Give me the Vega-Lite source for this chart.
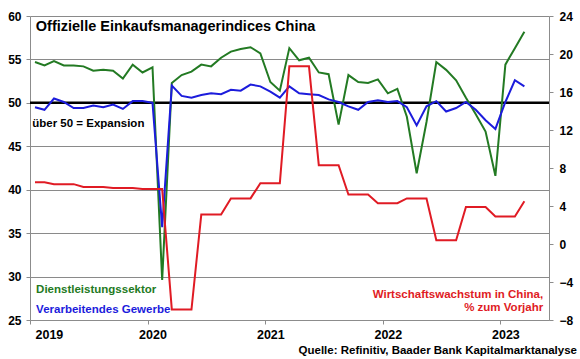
{
  "$schema": "https://vega.github.io/schema/vega-lite/v6.json",
  "width": 519,
  "height": 304,
  "autosize": {"type": "none"},
  "padding": {"left": 30, "top": 16, "right": 31, "bottom": 39},
  "background": "white",
  "config": {
    "font": "Liberation Sans",
    "view": {"stroke": null},
    "axis": {
      "labelFont": "Liberation Sans",
      "labelFontWeight": "bold",
      "labelColor": "black",
      "domainColor": "#8c8c8c",
      "tickColor": "#8c8c8c",
      "title": null
    }
  },
  "title": {
    "text": "Quelle: Refinitiv, Baader Bank Kapitalmarktanalyse",
    "orient": "bottom",
    "anchor": "end",
    "frame": "group",
    "font": "Liberation Sans",
    "fontSize": 11.5,
    "fontWeight": "bold",
    "color": "black",
    "offset": 4,
    "dx": 28
  },
  "datasets": {
    "pmi": [
      {"date": "2019-01", "dl": 54.7, "vg": 49.5, "bip": 6.5},
      {"date": "2019-02", "dl": 54.3, "vg": 49.2, "bip": 6.5},
      {"date": "2019-03", "dl": 54.8, "vg": 50.5, "bip": 6.3},
      {"date": "2019-04", "dl": 54.3, "vg": 50.1, "bip": 6.3},
      {"date": "2019-05", "dl": 54.3, "vg": 49.4, "bip": 6.3},
      {"date": "2019-06", "dl": 54.2, "vg": 49.4, "bip": 6.0},
      {"date": "2019-07", "dl": 53.7, "vg": 49.7, "bip": 6.0},
      {"date": "2019-08", "dl": 53.8, "vg": 49.5, "bip": 6.0},
      {"date": "2019-09", "dl": 53.7, "vg": 49.8, "bip": 5.9},
      {"date": "2019-10", "dl": 52.8, "vg": 49.3, "bip": 5.9},
      {"date": "2019-11", "dl": 54.4, "vg": 50.2, "bip": 5.9},
      {"date": "2019-12", "dl": 53.5, "vg": 50.2, "bip": 5.8},
      {"date": "2020-01", "dl": 54.1, "vg": 50.0, "bip": 5.8},
      {"date": "2020-02", "dl": 29.6, "vg": 35.7, "bip": 5.8},
      {"date": "2020-03", "dl": 52.3, "vg": 52.0, "bip": -6.9},
      {"date": "2020-04", "dl": 53.2, "vg": 50.8, "bip": -6.9},
      {"date": "2020-05", "dl": 53.6, "vg": 50.6, "bip": -6.9},
      {"date": "2020-06", "dl": 54.4, "vg": 50.9, "bip": 3.1},
      {"date": "2020-07", "dl": 54.2, "vg": 51.1, "bip": 3.1},
      {"date": "2020-08", "dl": 55.2, "vg": 51.0, "bip": 3.1},
      {"date": "2020-09", "dl": 55.9, "vg": 51.5, "bip": 4.8},
      {"date": "2020-10", "dl": 56.2, "vg": 51.4, "bip": 4.8},
      {"date": "2020-11", "dl": 56.4, "vg": 52.1, "bip": 4.8},
      {"date": "2020-12", "dl": 55.7, "vg": 51.9, "bip": 6.4},
      {"date": "2021-01", "dl": 52.4, "vg": 51.3, "bip": 6.4},
      {"date": "2021-02", "dl": 51.4, "vg": 50.6, "bip": 6.4},
      {"date": "2021-03", "dl": 56.3, "vg": 51.9, "bip": 18.7},
      {"date": "2021-04", "dl": 54.9, "vg": 51.1, "bip": 18.7},
      {"date": "2021-05", "dl": 55.2, "vg": 51.0, "bip": 18.7},
      {"date": "2021-06", "dl": 53.5, "vg": 50.9, "bip": 8.3},
      {"date": "2021-07", "dl": 53.3, "vg": 50.4, "bip": 8.3},
      {"date": "2021-08", "dl": 47.5, "vg": 50.1, "bip": 8.3},
      {"date": "2021-09", "dl": 53.2, "vg": 49.6, "bip": 5.2},
      {"date": "2021-10", "dl": 52.4, "vg": 49.2, "bip": 5.2},
      {"date": "2021-11", "dl": 52.3, "vg": 50.1, "bip": 5.2},
      {"date": "2021-12", "dl": 52.7, "vg": 50.3, "bip": 4.3},
      {"date": "2022-01", "dl": 51.1, "vg": 50.1, "bip": 4.3},
      {"date": "2022-02", "dl": 51.6, "vg": 50.2, "bip": 4.3},
      {"date": "2022-03", "dl": 48.4, "vg": 49.5, "bip": 4.8},
      {"date": "2022-04", "dl": 41.9, "vg": 47.4, "bip": 4.8},
      {"date": "2022-05", "dl": 47.8, "vg": 49.6, "bip": 4.8},
      {"date": "2022-06", "dl": 54.7, "vg": 50.2, "bip": 0.4},
      {"date": "2022-07", "dl": 53.8, "vg": 49.0, "bip": 0.4},
      {"date": "2022-08", "dl": 52.6, "vg": 49.4, "bip": 0.4},
      {"date": "2022-09", "dl": 50.6, "vg": 50.1, "bip": 3.9},
      {"date": "2022-10", "dl": 48.7, "vg": 49.2, "bip": 3.9},
      {"date": "2022-11", "dl": 46.7, "vg": 48.0, "bip": 3.9},
      {"date": "2022-12", "dl": 41.6, "vg": 47.0, "bip": 2.9},
      {"date": "2023-01", "dl": 54.4, "vg": 50.1, "bip": 2.9},
      {"date": "2023-02", "dl": 56.3, "vg": 52.6, "bip": 2.9},
      {"date": "2023-03", "dl": 58.2, "vg": 51.9, "bip": 4.5}
    ],
    "one": [{}]
  },
  "data": {"name": "pmi"},
  "layer": [
    {
      "layer": [
        {
          "data": {"name": "one"},
          "mark": {"type": "rule", "color": "black", "strokeWidth": 2.5},
          "encoding": {"y": {"datum": 50, "type": "quantitative"}}
        },
        {
          "mark": {"type": "line", "color": "#237a23", "strokeWidth": 2},
          "encoding": {
            "x": {
              "field": "date", "type": "temporal", "timeUnit": "utcyearmonth", "bandPosition": 0.5,
              "scale": {"domain": [{"year": 2019, "month": 1, "date": 1, "utc": true}, {"year": 2023, "month": 6, "date": 1, "utc": true}]},
              "axis": {
                "values": [
                  {"year": 2019, "month": 1, "date": 1, "utc": true},
                  {"year": 2020, "month": 1, "date": 1, "utc": true},
                  {"year": 2021, "month": 1, "date": 1, "utc": true},
                  {"year": 2022, "month": 1, "date": 1, "utc": true},
                  {"year": 2023, "month": 1, "date": 1, "utc": true}
                ],
                "labelExpr": "utcFormat(datum.value, '%Y')",
                "labelOffset": 5,
                "labelFontSize": 12.5,
                "tickSize": 4,
                "labelPadding": 4,
                "grid": false,
                "title": null
              }
            },
            "y": {
              "field": "dl", "type": "quantitative",
              "scale": {"domain": [25, 60], "nice": false, "zero": false},
              "axis": {
                "orient": "left",
                "values": [25, 30, 35, 40, 45, 50, 55, 60],
                "grid": true,
                "gridColor": "#8a8a8a",
                "gridWidth": 1,
                "gridOpacity": 1,
                "labelFontSize": 12,
                "tickSize": 4,
                "labelPadding": 5,
                "title": null
              }
            }
          }
        },
        {
          "mark": {"type": "line", "color": "#1c1cdc", "strokeWidth": 2},
          "encoding": {
            "x": {"field": "date", "type": "temporal", "timeUnit": "utcyearmonth", "bandPosition": 0.5},
            "y": {"field": "vg", "type": "quantitative"}
          }
        },
        {
          "data": {"name": "one"},
          "mark": {"type": "text", "align": "left", "baseline": "alphabetic", "fontSize": 14.5, "fontWeight": "bold", "color": "black", "text": "Offizielle Einkaufsmanagerindices China"},
          "encoding": {
            "x": {"datum": {"year": 2019, "month": 1, "date": 19, "utc": true}, "type": "temporal"},
            "y": {"datum": 58.27, "type": "quantitative"}
          }
        },
        {
          "data": {"name": "one"},
          "mark": {"type": "text", "align": "left", "baseline": "alphabetic", "fontSize": 11.5, "fontWeight": "bold", "color": "black", "text": "über 50 = Expansion"},
          "encoding": {
            "x": {"datum": {"year": 2019, "month": 1, "date": 8, "utc": true}, "type": "temporal"},
            "y": {"datum": 47.18, "type": "quantitative"}
          }
        },
        {
          "data": {"name": "one"},
          "mark": {"type": "text", "align": "left", "baseline": "alphabetic", "fontSize": 11.5, "fontWeight": "bold", "color": "#237a23", "text": "Dienstleistungssektor"},
          "encoding": {
            "x": {"datum": {"year": 2019, "month": 1, "date": 20, "utc": true}, "type": "temporal"},
            "y": {"datum": 28.07, "type": "quantitative"}
          }
        },
        {
          "data": {"name": "one"},
          "mark": {"type": "text", "align": "left", "baseline": "alphabetic", "fontSize": 11.5, "fontWeight": "bold", "color": "#1c1cdc", "text": "Verarbeitendes Gewerbe"},
          "encoding": {
            "x": {"datum": {"year": 2019, "month": 1, "date": 20, "utc": true}, "type": "temporal"},
            "y": {"datum": 25.84, "type": "quantitative"}
          }
        },
        {
          "data": {"name": "one"},
          "mark": {"type": "text", "align": "right", "baseline": "alphabetic", "fontSize": 11.5, "fontWeight": "bold", "color": "#e01b24", "text": "Wirtschaftswachstum in China,"},
          "encoding": {
            "x": {"datum": {"year": 2023, "month": 5, "date": 14, "utc": true}, "type": "temporal"},
            "y": {"datum": 27.5, "type": "quantitative"}
          }
        },
        {
          "data": {"name": "one"},
          "mark": {"type": "text", "align": "right", "baseline": "alphabetic", "fontSize": 11.5, "fontWeight": "bold", "color": "#e01b24", "text": "% zum Vorjahr"},
          "encoding": {
            "x": {"datum": {"year": 2023, "month": 5, "date": 14, "utc": true}, "type": "temporal"},
            "y": {"datum": 26.07, "type": "quantitative"}
          }
        }
      ]
    },
    {
      "mark": {"type": "line", "color": "#e01b24", "strokeWidth": 2},
      "encoding": {
        "x": {"field": "date", "type": "temporal", "timeUnit": "utcyearmonth", "bandPosition": 0.5},
        "y": {
          "field": "bip", "type": "quantitative",
          "scale": {"domain": [-8, 24], "nice": false, "zero": false},
          "axis": {
            "orient": "right",
            "values": [-8, -4, 0, 4, 8, 12, 16, 20, 24],
            "grid": false,
            "labelFontSize": 12,
            "tickSize": 4,
            "labelPadding": 6,
            "title": null
          }
        }
      }
    }
  ],
  "resolve": {"scale": {"y": "independent"}}
}
